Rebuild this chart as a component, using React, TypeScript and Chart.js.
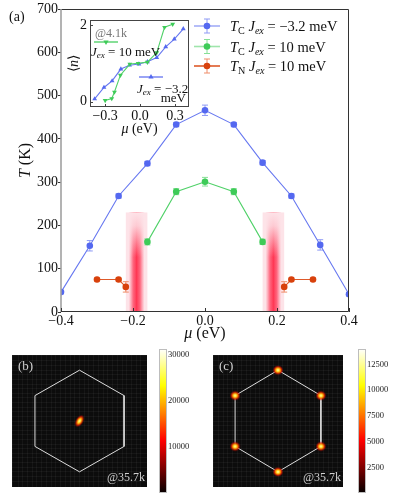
import React, { useEffect, useRef } from 'react';
import { Chart, registerables } from 'chart.js';
Chart.register(...registerables);

const SERIF = '"Liberation Serif", "Times New Roman", serif';

// ---------- panel (a) data ----------
const muTicks = [-0.4, -0.2, 0, 0.2, 0.4];
const tTicks = [0, 100, 200, 300, 400, 500, 600, 700];
const muBlue = [-0.4, -0.32, -0.24, -0.16, -0.08, 0, 0.08, 0.16, 0.24, 0.32, 0.4];
const tcBlue = [46, 153, 268, 343, 433, 466, 433, 345, 268, 155, 41];
const errBlue = [4, 12, 5, 5, 5, 12, 5, 5, 5, 12, 4];
const muGreen = [-0.16, -0.08, 0, 0.08, 0.16];
const tcGreen = [162, 278, 301, 278, 162];
const errGreen = [7, 7, 10, 7, 6];
const muOrangeL = [-0.3, -0.24, -0.22];
const tnOrangeL = [75, 75, 58];
const errOrangeL = [3, 3, 12];
const muOrangeR = [0.22, 0.24, 0.3];
const tnOrangeR = [58, 75, 75];
const errOrangeR = [12, 3, 3];
const bandLo = [-0.22, 0.16];
const bandHi = [-0.16, 0.22];
const bandMid = [-0.19, 0.19];
const bandTop = 230;

// ---------- inset data ----------
const insetMuTicks = [-0.3, 0, 0.3];
const insetNTicks = [0, 2];
const insetMuBlue = [-0.39, -0.31, -0.24, -0.165, -0.09, -0.01, 0.063, 0.143, 0.22, 0.294, 0.371];
const insetNBlue = [0.07, 0.37, 0.54, 0.85, 0.95, 0.98, 1.04, 1.15, 1.43, 1.63, 1.9];
const insetMuGreen = [-0.3, -0.243, -0.22, -0.169, -0.088, -0.017, 0.063, 0.143, 0.21, 0.28];
const insetNGreen = [0.03, 0.08, 0.25, 0.69, 0.98, 1.0, 1.03, 1.28, 1.94, 2.02];

// ---------- panels (b), (c) data ----------
const hexX = [0, 0.66, 0.66, 0, -0.66, -0.66, 0];
const hexY = [0.77, 0.385, -0.385, -0.77, -0.385, 0.385, 0.77];
const spotBX = [0];
const spotBY = [0];
const spotCX = [0, 0.66, 0.66, 0, -0.66, -0.66];
const spotCY = [0.77, 0.385, -0.385, -0.77, -0.385, 0.385];
const cbarBTicks = [10000, 20000, 30000];
const cbarBMax = 31200;
const cbarCTicks = [2500, 5000, 7500, 10000, 12500];
const cbarCMax = 14000;

const BLUE = '#5468f0';
const BLUE_LINE = '#6677f0';
const BLUE_ERR = '#8e9af5';
const GREEN = '#3ecb58';
const GREEN_LINE = '#4fd168';
const GREEN_ERR = '#86e096';
const ORANGE = '#d8410c';
const ORANGE_LINE = '#de5a2a';
const ORANGE_ERR = '#ef8c68';

type Seg = { t: string; i?: boolean; sub?: boolean };

function drawRich(ctx: CanvasRenderingContext2D, segs: Seg[], x: number, yBase: number, size: number, color: string, align: 'left' | 'center' | 'right' = 'left') {
  ctx.save();
  ctx.fillStyle = color;
  ctx.textBaseline = 'alphabetic';
  ctx.textAlign = 'left';
  const font = (s: Seg) => `${s.i ? 'italic ' : ''}${s.sub ? size * 0.7 : size}px ${SERIF}`;
  let w = 0;
  for (const s of segs) { ctx.font = font(s); w += ctx.measureText(s.t).width; }
  let cx = align === 'left' ? x : align === 'center' ? x - w / 2 : x - w;
  for (const s of segs) {
    ctx.font = font(s);
    ctx.fillText(s.t, cx, yBase + (s.sub ? size * 0.22 : 0));
    cx += ctx.measureText(s.t).width;
  }
  ctx.restore();
}

const fmtMu = (v: number) => {
  const a = Math.abs(v).toFixed(1);
  return v < -1e-9 ? '\u2212' + a : a;
};

function fixAxis(size: number) {
  return (s: any) => {
    if (s.isHorizontal()) s.height = size; else s.width = size;
    s.paddingTop = 0; s.paddingBottom = 0; s.paddingLeft = 0; s.paddingRight = 0;
  };
}
function setTicks(vals: number[]) {
  return (s: any) => { s.ticks = vals.map((v) => ({ value: v })); };
}
const pts = (xs: number[], ys: number[]) => xs.map((x, i) => ({ x, y: ys[i] }));

function buildMain(canvas: HTMLCanvasElement) {
  const series = (xs: number[], ys: number[], errs: number[], color: string, line: string, err: string) => ({
    data: pts(xs, ys),
    errors: errs,
    errColor: err,
    showLine: true,
    borderColor: line,
    borderWidth: 1.1,
    pointBackgroundColor: color,
    pointBorderColor: color,
    pointBorderWidth: 0,
    pointRadius: 3.3,
    clip: 0,
  });
  const deco = {
    id: 'deco',
    beforeDatasetsDraw(chart: any) {
      const { ctx, chartArea: ca, scales } = chart;
      const x = scales.x, y = scales.y;
      ctx.save();
      ctx.beginPath();
      ctx.rect(ca.left, ca.top, ca.right - ca.left, ca.bottom - ca.top);
      ctx.clip();
      for (let i = 0; i < bandLo.length; i++) {
        const xl = x.getPixelForValue(bandLo[i]);
        const xr = x.getPixelForValue(bandHi[i]);
        const xm = x.getPixelForValue(bandMid[i]);
        const yt = y.getPixelForValue(bandTop);
        const yb = y.getPixelForValue(0);
        ctx.fillStyle = '#fde3e8';
        ctx.fillRect(xl, yt, xr - xl, yb - yt);
        const hw = (xr - xl) * 0.36;
        const g = ctx.createLinearGradient(xm - hw, 0, xm + hw, 0);
        g.addColorStop(0, 'rgba(255,80,110,0)');
        g.addColorStop(0.28, 'rgba(255,60,90,0.75)');
        g.addColorStop(0.5, 'rgba(255,45,75,0.95)');
        g.addColorStop(0.72, 'rgba(255,60,90,0.75)');
        g.addColorStop(1, 'rgba(255,80,110,0)');
        ctx.fillStyle = g;
        ctx.fillRect(xm - hw, yt, 2 * hw, yb - yt);
        const fh = (yb - yt) * 0.45;
        const v = ctx.createLinearGradient(0, yt, 0, yt + fh);
        v.addColorStop(0, 'rgba(253,227,232,1)');
        v.addColorStop(0.3, 'rgba(253,227,232,0.85)');
        v.addColorStop(1, 'rgba(253,227,232,0)');
        ctx.fillStyle = v;
        ctx.fillRect(xm - hw, yt, 2 * hw, fh);
      }
      // error bars
      chart.data.datasets.forEach((ds: any) => {
        ctx.strokeStyle = ds.errColor;
        ctx.lineWidth = 1;
        ds.data.forEach((p: any, k: number) => {
          const px = x.getPixelForValue(p.x);
          const y1 = y.getPixelForValue(p.y - ds.errors[k]);
          const y2 = y.getPixelForValue(p.y + ds.errors[k]);
          ctx.beginPath();
          ctx.moveTo(px, y1); ctx.lineTo(px, y2);
          ctx.moveTo(px - 3, y1); ctx.lineTo(px + 3, y1);
          ctx.moveTo(px - 3, y2); ctx.lineTo(px + 3, y2);
          ctx.stroke();
        });
      });
      ctx.restore();
    },
    afterDraw(chart: any) {
      const { ctx, chartArea: ca, scales } = chart;
      const x = scales.x;
      ctx.save();
      // frame
      ctx.lineWidth = 1;
      ctx.strokeStyle = '#333';
      ctx.beginPath();
      ctx.moveTo(ca.left, ca.top + 0.5); ctx.lineTo(ca.right - 0.5, ca.top + 0.5);
      ctx.lineTo(ca.right - 0.5, ca.bottom - 0.5); ctx.lineTo(ca.left, ca.bottom - 0.5);
      ctx.stroke();
      ctx.strokeStyle = '#a0a0a0';
      ctx.lineWidth = 1.6;
      ctx.beginPath();
      ctx.moveTo(ca.left, ca.top); ctx.lineTo(ca.left, ca.bottom);
      ctx.stroke();
      // inward x ticks
      ctx.strokeStyle = '#333';
      ctx.lineWidth = 1;
      muTicks.forEach((v) => {
        const px = Math.round(x.getPixelForValue(v)) + 0.5;
        ctx.beginPath(); ctx.moveTo(px, ca.bottom); ctx.lineTo(px, ca.bottom - 4); ctx.stroke();
      });
      ctx.restore();
      // axis titles
      drawRich(ctx, [{ t: '\u03bc', i: true }, { t: ' (eV)' }], (ca.left + ca.right) / 2, 338, 16, '#111', 'center');
      ctx.save();
      ctx.translate(30, (ca.top + ca.bottom) / 2);
      ctx.rotate(-Math.PI / 2);
      drawRich(ctx, [{ t: 'T', i: true }, { t: ' (K)' }], 0, 0, 16, '#111', 'center');
      ctx.restore();
      drawRich(ctx, [{ t: '(a)' }], 9, 21, 14, '#111', 'left');
      // legend
      const items = [
        { segs: [{ t: 'T', i: true }, { t: 'C', sub: true }, { t: ' ' }, { t: 'J', i: true }, { t: 'ex', i: true, sub: true }, { t: ' = \u22123.2 meV' }], c: BLUE, l: '#a3adf6', e: BLUE_ERR, y: 26 },
        { segs: [{ t: 'T', i: true }, { t: 'C', sub: true }, { t: ' ' }, { t: 'J', i: true }, { t: 'ex', i: true, sub: true }, { t: ' = 10 meV' }], c: GREEN, l: '#9fe5ab', e: GREEN_ERR, y: 46.5 },
        { segs: [{ t: 'T', i: true }, { t: 'N', sub: true }, { t: ' ' }, { t: 'J', i: true }, { t: 'ex', i: true, sub: true }, { t: ' = 10 meV' }], c: ORANGE, l: ORANGE_LINE, e: ORANGE_ERR, y: 66 },
      ];
      const lx = ca.left + 133;
      items.forEach((it) => {
        ctx.save();
        ctx.strokeStyle = it.l;
        ctx.lineWidth = 1.6;
        ctx.beginPath(); ctx.moveTo(lx, it.y); ctx.lineTo(lx + 26, it.y); ctx.stroke();
        ctx.strokeStyle = it.e;
        ctx.lineWidth = 1;
        const mx = lx + 13;
        ctx.beginPath();
        ctx.moveTo(mx, it.y - 7); ctx.lineTo(mx, it.y + 7);
        ctx.moveTo(mx - 3, it.y - 7); ctx.lineTo(mx + 3, it.y - 7);
        ctx.moveTo(mx - 3, it.y + 7); ctx.lineTo(mx + 3, it.y + 7);
        ctx.stroke();
        ctx.fillStyle = it.c;
        ctx.beginPath(); ctx.arc(mx, it.y, 3.3, 0, Math.PI * 2); ctx.fill();
        ctx.restore();
        drawRich(ctx, it.segs, lx + 36, it.y + 5, 14.5, '#111', 'left');
      });
    },
  };
  return new Chart(canvas, {
    type: 'scatter',
    data: {
      datasets: [
        series(muBlue, tcBlue, errBlue, BLUE, BLUE_LINE, BLUE_ERR),
        series(muGreen, tcGreen, errGreen, GREEN, GREEN_LINE, GREEN_ERR),
        series(muOrangeL, tnOrangeL, errOrangeL, ORANGE, ORANGE_LINE, ORANGE_ERR),
        series(muOrangeR, tnOrangeR, errOrangeR, ORANGE, ORANGE_LINE, ORANGE_ERR),
      ] as any,
    },
    options: {
      responsive: false,
      animation: false,
      devicePixelRatio: 1,
      layout: { padding: { left: 0, right: 49, top: 9, bottom: 0 } },
      plugins: { legend: { display: false }, tooltip: { enabled: false } },
      scales: {
        x: {
          type: 'linear', min: -0.4, max: 0.4,
          afterFit: fixAxis(30), afterBuildTicks: setTicks(muTicks),
          ticks: { callback: (v: any) => fmtMu(Number(v)), font: { family: SERIF, size: 14 }, color: '#111', padding: 1, maxRotation: 0, autoSkip: false },
          grid: { drawOnChartArea: false, drawTicks: false },
          border: { display: false },
        },
        y: {
          type: 'linear', min: 0, max: 700,
          afterFit: fixAxis(61), afterBuildTicks: setTicks(tTicks),
          ticks: { callback: (v: any) => String(v), font: { family: SERIF, size: 14 }, color: '#111', padding: 0, autoSkip: false },
          grid: { drawOnChartArea: false, drawTicks: true, tickLength: 3, color: '#333' },
          border: { display: false },
        },
      },
    } as any,
    plugins: [deco as any],
  });
}

function tri(ctx: CanvasRenderingContext2D, x: number, y: number, r: number, down: boolean) {
  const s = down ? -1 : 1;
  ctx.beginPath();
  ctx.moveTo(x, y - s * r);
  ctx.lineTo(x + r * 0.87, y + s * r * 0.5);
  ctx.lineTo(x - r * 0.87, y + s * r * 0.5);
  ctx.closePath();
  ctx.fill();
}

function buildInset(canvas: HTMLCanvasElement) {
  const deco = {
    id: 'insetDeco',
    beforeDraw(chart: any) {
      const { ctx, chartArea: ca } = chart;
      ctx.save();
      ctx.fillStyle = '#fff';
      ctx.fillRect(ca.left, ca.top, ca.right - ca.left, ca.bottom - ca.top);
      ctx.restore();
    },
    afterDraw(chart: any) {
      const { ctx, chartArea: ca, scales } = chart;
      ctx.save();
      ctx.strokeStyle = '#444';
      ctx.lineWidth = 1;
      ctx.strokeRect(ca.left + 0.5, ca.top + 0.5, ca.right - ca.left - 1, ca.bottom - ca.top - 1);
      ctx.beginPath();
      insetMuTicks.forEach((v) => {
        const px = Math.round(scales.x.getPixelForValue(v)) + 0.5;
        ctx.moveTo(px, ca.bottom); ctx.lineTo(px, ca.bottom - 3);
      });
      insetNTicks.forEach((v) => {
        const py = Math.round(scales.y.getPixelForValue(v)) + 0.5;
        ctx.moveTo(ca.left, py); ctx.lineTo(ca.left + 3, py);
      });
      ctx.stroke();
      ctx.restore();
      drawRich(ctx, [{ t: '\u03bc', i: true }, { t: ' (eV)' }], (ca.left + ca.right) / 2, 121, 14, '#111', 'center');
      ctx.save();
      ctx.translate(16, (ca.top + ca.bottom) / 2);
      ctx.rotate(-Math.PI / 2);
      drawRich(ctx, [{ t: '\u27e8' }, { t: 'n', i: true }, { t: '\u27e9' }], 0, 0, 14, '#111', 'center');
      ctx.restore();
      // inset legend
      drawRich(ctx, [{ t: '@4.1k' }], 33, 25, 12, '#777', 'left');
      ctx.save();
      ctx.strokeStyle = '#5fd474';
      ctx.lineWidth = 1.5;
      ctx.beginPath(); ctx.moveTo(32, 30); ctx.lineTo(56, 30); ctx.stroke();
      ctx.fillStyle = GREEN;
      tri(ctx, 44, 30, 3, true);
      ctx.strokeStyle = '#7886f2';
      ctx.beginPath(); ctx.moveTo(77, 65); ctx.lineTo(101, 65); ctx.stroke();
      ctx.fillStyle = BLUE;
      tri(ctx, 89, 65, 3, false);
      ctx.restore();
      drawRich(ctx, [{ t: 'J', i: true }, { t: 'ex', i: true, sub: true }, { t: ' = 10 meV' }], 29, 43.5, 13, '#111', 'left');
      drawRich(ctx, [{ t: 'J', i: true }, { t: 'ex', i: true, sub: true }, { t: ' = \u22123.2' }], 75, 80.5, 13, '#111', 'left');
      drawRich(ctx, [{ t: 'meV' }], 124, 89.5, 13, '#111', 'right');
    },
  };
  return new Chart(canvas, {
    type: 'scatter',
    data: {
      datasets: [
        {
          data: pts(insetMuGreen, insetNGreen), showLine: true, borderColor: '#4fd168', borderWidth: 1.1,
          pointStyle: 'triangle', pointRotation: 180, pointRadius: 2.8, pointBackgroundColor: GREEN, pointBorderColor: GREEN, pointBorderWidth: 0,
        },
        {
          data: pts(insetMuBlue, insetNBlue), showLine: true, borderColor: '#6677f0', borderWidth: 1.1,
          pointStyle: 'triangle', pointRadius: 2.8, pointBackgroundColor: BLUE, pointBorderColor: BLUE, pointBorderWidth: 0,
        },
      ] as any,
    },
    options: {
      responsive: false,
      animation: false,
      devicePixelRatio: 1,
      layout: { padding: { left: 0, right: 5, top: 8, bottom: 0 } },
      plugins: { legend: { display: false }, tooltip: { enabled: false } },
      scales: {
        x: {
          type: 'linear', min: -0.43, max: 0.42,
          afterFit: fixAxis(33), afterBuildTicks: setTicks(insetMuTicks),
          ticks: { callback: (v: any) => fmtMu(Number(v)), font: { family: SERIF, size: 14 }, color: '#111', padding: 1, maxRotation: 0, autoSkip: false },
          grid: { drawOnChartArea: false, drawTicks: false },
          border: { display: false },
        },
        y: {
          type: 'linear', min: -0.14, max: 2.13,
          afterFit: fixAxis(28), afterBuildTicks: setTicks(insetNTicks),
          ticks: { callback: (v: any) => String(v), font: { family: SERIF, size: 14 }, color: '#111', padding: 3, autoSkip: false },
          grid: { drawOnChartArea: false, drawTicks: false },
          border: { display: false },
        },
      },
    } as any,
    plugins: [deco as any],
  });
}

function makeSpot(rx: number, ry: number, rot: number) {
  const c = document.createElement('canvas');
  c.width = 22; c.height = 22;
  const g = c.getContext('2d')!;
  g.translate(11, 11);
  g.rotate(rot);
  g.scale(1, ry / rx);
  const grad = g.createRadialGradient(0, 0, 0, 0, 0, rx);
  grad.addColorStop(0, '#ffffd0');
  grad.addColorStop(0.22, '#fff040');
  grad.addColorStop(0.45, '#ff9000');
  grad.addColorStop(0.7, 'rgba(225,25,0,0.75)');
  grad.addColorStop(1, 'rgba(120,0,0,0)');
  g.fillStyle = grad;
  g.beginPath(); g.arc(0, 0, rx, 0, Math.PI * 2); g.fill();
  return c;
}

function buildHeat(canvas: HTMLCanvasElement, sx: number[], sy: number[], spot: HTMLCanvasElement, label: string) {
  const axis = {
    type: 'linear', min: -1, max: 1,
    afterFit: fixAxis(0),
    ticks: { display: false, stepSize: 0.07 },
    grid: { color: 'rgba(255,255,255,0.045)', drawTicks: false },
    border: { display: false },
  };
  const deco = {
    id: 'heatDeco',
    beforeDraw(chart: any) {
      const { ctx, chartArea: ca } = chart;
      ctx.save();
      ctx.fillStyle = '#0c0c0c';
      ctx.fillRect(ca.left, ca.top, ca.right - ca.left, ca.bottom - ca.top);
      ctx.restore();
    },
    afterDraw(chart: any) {
      const { ctx, chartArea: ca } = chart;
      drawRich(ctx, [{ t: label }], ca.left + 6, ca.top + 15, 13, '#d0d0d0', 'left');
      drawRich(ctx, [{ t: '@35.7k' }], ca.right - 2, ca.bottom - 6, 12, '#d0d0d0', 'right');
    },
  };
  return new Chart(canvas, {
    type: 'scatter',
    data: {
      datasets: [
        { data: pts(sx, sy), pointStyle: spot, pointRadius: 5, showLine: false },
        { data: pts(hexX, hexY), showLine: true, borderColor: '#dcdcdc', borderWidth: 1, pointRadius: 0 },
      ] as any,
    },
    options: {
      responsive: false,
      animation: false,
      devicePixelRatio: 1,
      layout: { padding: 0 },
      plugins: { legend: { display: false }, tooltip: { enabled: false } },
      scales: { x: axis, y: axis },
    } as any,
    plugins: [deco as any],
  });
}

function buildBar(canvas: HTMLCanvasElement, max: number, ticks: number[]) {
  const deco = {
    id: 'cbar',
    beforeDraw(chart: any) {
      const { ctx, chartArea: ca } = chart;
      ctx.save();
      const g = ctx.createLinearGradient(0, ca.bottom, 0, ca.top);
      g.addColorStop(0, '#050000');
      g.addColorStop(0.365, '#ff0000');
      g.addColorStop(0.746, '#ffff00');
      g.addColorStop(1, '#ffffff');
      ctx.fillStyle = g;
      ctx.fillRect(ca.left, ca.top, ca.right - ca.left, ca.bottom - ca.top);
      ctx.strokeStyle = '#bdbdbd';
      ctx.lineWidth = 1;
      ctx.strokeRect(ca.left + 0.5, ca.top + 0.5, ca.right - ca.left - 1, ca.bottom - ca.top - 1);
      ctx.restore();
    },
  };
  return new Chart(canvas, {
    type: 'scatter',
    data: { datasets: [] },
    options: {
      responsive: false,
      animation: false,
      devicePixelRatio: 1,
      layout: { padding: 0 },
      plugins: { legend: { display: false }, tooltip: { enabled: false } },
      scales: {
        x: { type: 'linear', display: false },
        y: {
          type: 'linear', position: 'right', min: 0, max,
          afterFit: fixAxis(32), afterBuildTicks: setTicks(ticks),
          ticks: { callback: (v: any) => String(v), font: { family: SERIF, size: 8.5 }, color: '#222', padding: 1, autoSkip: false },
          grid: { drawOnChartArea: false, drawTicks: false },
          border: { display: false },
        },
      },
    } as any,
    plugins: [deco as any],
  });
}

function ChartCanvas(props: { left: number; top: number; width: number; height: number; build: (c: HTMLCanvasElement) => Chart }) {
  const ref = useRef<HTMLCanvasElement>(null);
  useEffect(() => {
    const chart = props.build(ref.current!);
    return () => chart.destroy();
  }, []);
  return (
    <canvas
      ref={ref}
      width={props.width}
      height={props.height}
      style={{ position: 'absolute', left: props.left, top: props.top, width: props.width, height: props.height }}
    />
  );
}

export default function App() {
  return (
    <div style={{ position: 'absolute', left: 0, top: 0, width: 398, height: 499, background: '#fff', overflow: 'hidden' }}>
      <ChartCanvas left={0} top={0} width={398} height={342} build={buildMain} />
      <ChartCanvas left={62} top={12} width={132} height={128} build={buildInset} />
      <ChartCanvas left={6} top={349} width={147} height={144} build={(c) => buildHeat(c, spotBX, spotBY, makeSpot(7, 4, -Math.PI / 3), '(b)')} />
      <ChartCanvas left={159} top={349} width={40} height={144} build={(c) => buildBar(c, cbarBMax, cbarBTicks)} />
      <ChartCanvas left={207} top={349} width={142} height={144} build={(c) => buildHeat(c, spotCX, spotCY, makeSpot(5.5, 5, 0), '(c)')} />
      <ChartCanvas left={358} top={349} width={40} height={144} build={(c) => buildBar(c, cbarCMax, cbarCTicks)} />
    </div>
  );
}
